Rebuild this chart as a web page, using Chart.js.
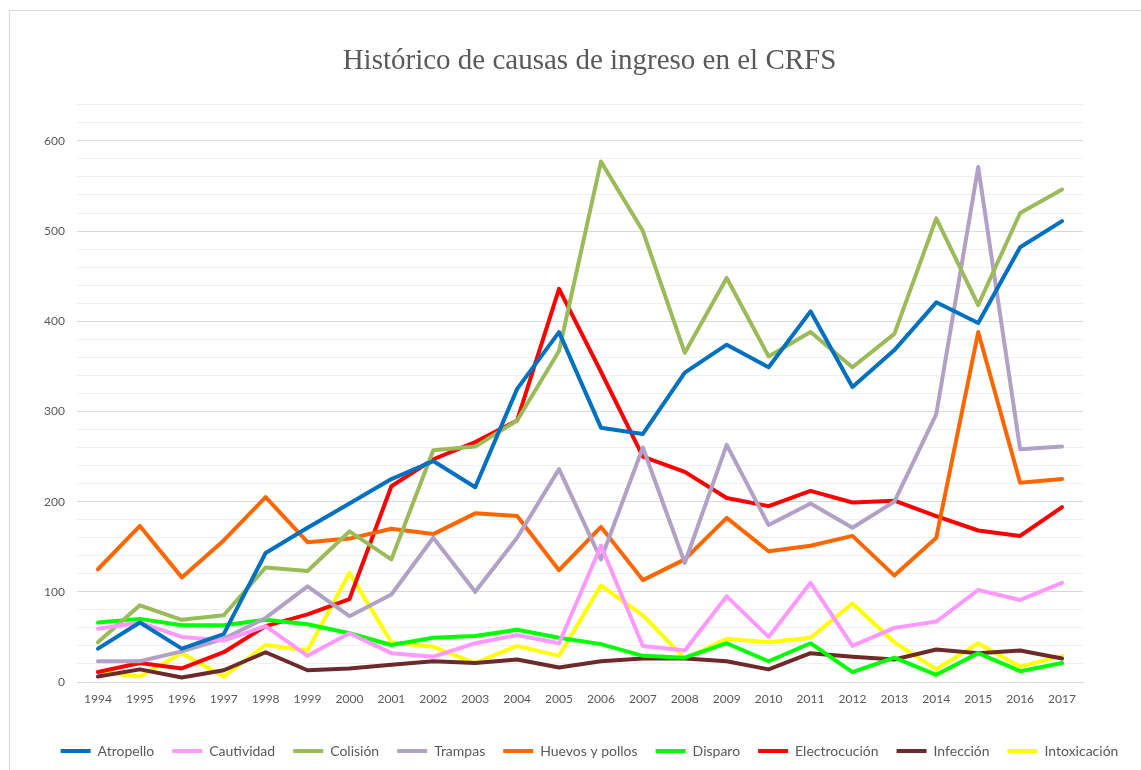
<!DOCTYPE html>
<html>
<head>
<meta charset="utf-8">
<script src="https://cdn.jsdelivr.net/npm/chart.js@4/dist/chart.umd.min.js"></script>
<style>
  html, body { margin: 0; padding: 0; background: #fff; overflow: hidden; }
  #frame { position: absolute; left: 9px; top: 10px; width: 1200px; height: 800px; border: 1px solid #d9d9d9; }
  #causasChart { position: absolute; left: 0; top: 0; }
</style>
</head>
<body>
<div id="frame"></div>
<canvas id="causasChart" width="1141" height="770"></canvas>
<script>
var years = ["1994", "1995", "1996", "1997", "1998", "1999", "2000", "2001", "2002", "2003", "2004", "2005",
             "2006", "2007", "2008", "2009", "2010", "2011", "2012", "2013", "2014", "2015", "2016", "2017"];

var atropello     = [37, 66, 37, 53, 143, 171, 198, 225, 245, 216, 325, 388, 282, 275, 343, 374, 349, 411, 327, 368, 421, 398, 482, 511];
var cautividad    = [59, 66, 50, 46, 62, 29, 54, 32, 28, 43, 52, 43, 151, 40, 35, 95, 50, 110, 40, 60, 67, 102, 91, 110];
var colision      = [44, 85, 69, 74, 127, 123, 167, 136, 257, 261, 290, 367, 577, 500, 365, 448, 361, 388, 349, 386, 514, 418, 520, 546];
var trampas       = [23, 23, 34, 48, 71, 106, 73, 97, 160, 100, 160, 236, 136, 260, 132, 263, 174, 198, 171, 200, 297, 571, 258, 261];
var huevosPollos  = [125, 173, 116, 157, 205, 155, 159, 170, 164, 187, 184, 124, 172, 113, 136, 182, 145, 151, 162, 118, 160, 388, 221, 225];
var disparo       = [66, 70, 63, 63, 69, 64, 54, 41, 49, 51, 58, 49, 42, 29, 27, 43, 23, 43, 11, 27, 8, 32, 12, 21];
var electrocucion = [11, 21, 15, 33, 62, 75, 92, 217, 247, 266, 290, 436, 344, 250, 233, 204, 195, 212, 199, 201, 184, 168, 162, 194];
var infeccion     = [6, 14, 5, 13, 33, 13, 15, 19, 23, 21, 25, 16, 23, 26, 26, 23, 14, 32, 28, 25, 36, 32, 35, 26];
var intoxicacion  = [11, 6, 32, 6, 41, 35, 121, 44, 39, 21, 40, 29, 107, 74, 26, 48, 44, 49, 87, 44, 14, 43, 17, 29];

var seriesNames = ["Atropello", "Cautividad", "Colisión", "Trampas", "Huevos y pollos", "Disparo", "Electrocución", "Infección", "Intoxicación"];
var seriesData = [atropello, cautividad, colision, trampas, huevosPollos, disparo, electrocucion, infeccion, intoxicacion];
var customColors = ['#0070C0', '#FF99FF', '#9BBB59', '#B2A1C7', '#FF6600', '#00FF00', '#FF0000', '#6E2A2A', '#FFFF00'];

var textGray = '#595959';

document.addEventListener("DOMContentLoaded", function () {
  renderCausas();
});

function buildDatasets() {
  return seriesNames.map(function (name, i) {
    return {
      label: name,
      data: seriesData[i],
      borderColor: customColors[i],
      backgroundColor: customColors[i],
      borderWidth: 4,
      pointRadius: 0,
      tension: 0,
      borderJoinStyle: 'round',
      borderCapStyle: 'round'
    };
  });
}

function renderCausas() {
  var ctx = document.getElementById("causasChart");
  var myChart = new Chart(ctx, {
    type: 'line',
    data: {
      labels: years,
      datasets: buildDatasets()
    },
    options: {
      responsive: false,
      animation: false,
      layout: { padding: { left: 38, top: 0, right: 0, bottom: 2 } },
      plugins: {
        title: {
          display: true,
          text: 'Histórico de causas de ingreso en el CRFS',
          color: textGray,
          font: { family: 'Liberation Serif', size: 29, weight: 'normal' },
          padding: { top: 44, bottom: 26 }
        },
        legend: {
          position: 'bottom',
          labels: {
            boxWidth: 30,
            boxHeight: 4,
            padding: 18,
            color: textGray,
            font: { family: 'Lato', size: 14 },
            generateLabels: function (chart) {
              var items = Chart.defaults.plugins.legend.labels.generateLabels(chart);
              items.forEach(function (item) { item.lineWidth = 0; });
              return items;
            }
          }
        },
        tooltip: { enabled: false }
      },
      scales: {
        x: {
          type: 'category',
          offset: true,
          grid: { display: false, drawTicks: false },
          border: { color: '#d9d9d9', width: 1 },
          ticks: { padding: 10, color: textGray, font: { family: 'Lato', size: 12 }, maxRotation: 0, autoSkip: false },
          afterFit: function (scale) { scale.height = 44; }
        },
        y: {
          min: 0,
          max: 640,
          ticks: {
            stepSize: 20,
            padding: 12,
            color: textGray,
            font: { family: 'Lato', size: 12 },
            callback: function (value) { return value % 100 === 0 ? value : ''; }
          },
          grid: {
            drawTicks: false,
            color: function (c) {
              return c.tick && c.tick.value % 100 === 0 ? '#d9d9d9' : '#f0f0f0';
            }
          },
          border: { display: false },
          afterFit: function (scale) { scale.width = 39; }
        },
        yRight: {
          type: 'linear',
          position: 'right',
          grid: { display: false },
          ticks: { display: false },
          border: { display: false },
          afterFit: function (scale) { scale.width = 58; }
        }
      }
    }
  });
}
</script>
</body>
</html>
